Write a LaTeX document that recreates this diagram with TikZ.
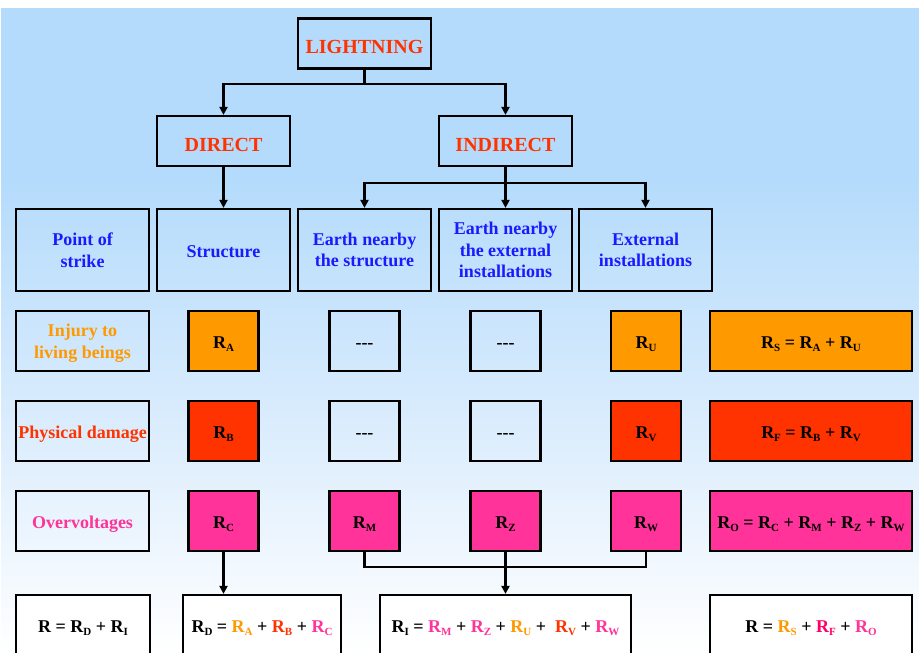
\documentclass[tikz,border=0pt]{standalone}
\usepackage{fontspec}
\setmainfont{Liberation Serif}
\usepackage{xcolor}
\usetikzlibrary{arrows.meta,positioning,calc}

\definecolor{bgtop}{HTML}{B4DBFC}
\definecolor{bgmid}{HTML}{DCEDFD}
\definecolor{headred}{HTML}{FF3300}
\definecolor{topicblue}{HTML}{1A1AFF}
\definecolor{riskorange}{HTML}{FF9900}
\definecolor{riskred}{HTML}{FF3300}
\definecolor{riskpink}{HTML}{FF3399}
\definecolor{riskmag}{HTML}{FF0066}

\newcommand{\Rsub}[1]{R\raisebox{-3.5pt}{\fontsize{11}{11}\selectfont #1}}
\newcommand{\cR}[2]{\textcolor{#1}{\Rsub{#2}}}

\pgfdeclareverticalshading{skyfade}{100bp}{color(0bp)=(white); color(25bp)=(white); color(42bp)=(bgmid); color(62bp)=(bgtop); color(100bp)=(bgtop)}

\begin{document}
\begin{tikzpicture}[x=1pt, y=-1pt,
    box/.style={draw, line width=2.2pt, inner sep=0pt, align=center, font=\fontsize{18}{21.6}\selectfont\bfseries},
    oneline/.style={text height=#1, text depth=0pt},
    head/.style={box, oneline=20pt, minimum width=133pt, minimum height=50pt, text=headred, font=\fontsize{20}{24}\selectfont\bfseries},
    point/.style={box, minimum width=133pt, minimum height=82pt, text=topicblue},
    kind/.style={box, minimum width=133pt, minimum height=60pt},
    cell/.style={box, oneline=14pt, minimum width=70pt, minimum height=60pt},
    sum/.style={box, oneline=14pt, minimum width=202pt, minimum height=60pt},
    total/.style={box, oneline=15pt, fill=white, minimum height=59pt},
    link/.style={line width=2.2pt},
    arr/.style={link, -{Triangle[width=8pt,length=8pt]}}
]
\clip (0,0) rectangle (919,653);
\shade[shading=skyfade] (1,8) rectangle (919,653);

% Lightning
\node[head] (light) at (364.5,43.5) {LIGHTNING};
\node[head] (direct) at (223.5,141) {DIRECT};
\node[head] (indirect) at (505.5,141) {INDIRECT};

% Points of strike
\node[point] (strike) at (82.5,250) {Point of\\strike};
\node[point, oneline=14pt] (struct) at (223.5,250) {Structure};
\node[point] (earth) at (364.5,250) {Earth nearby\\the structure};
\node[point] (earthext) at (505.5,250) {Earth nearby\\the external\\installations};
\node[point] (ext) at (645.5,250) {External\\installations};

% Injury
\node[kind, text depth=0pt, text=riskorange] (injury) at (82.5,341) {Injury to\\living beings};
\node[cell, fill=riskorange] (ra) at (223.5,341) {\Rsub{A}};
\node[cell] (na1) at (364.5,341) {-{}-{}-};
\node[cell] (na2) at (505.5,341) {-{}-{}-};
\node[cell, fill=riskorange] (ru) at (646,341) {\Rsub{U}};
\node[sum, fill=riskorange] (rs) at (811,341) {\Rsub{S} = \Rsub{A} + \Rsub{U}};

% Physical damage
\node[kind, oneline=14pt, text=riskred] (damage) at (82.5,431) {Physical damage};
\node[cell, fill=riskred] (rb) at (223.5,431) {\Rsub{B}};
\node[cell] (na3) at (364.5,431) {-{}-{}-};
\node[cell] (na4) at (505.5,431) {-{}-{}-};
\node[cell, fill=riskred] (rv) at (646,431) {\Rsub{V}};
\node[sum, fill=riskred] (rf) at (811,431) {\Rsub{F} = \Rsub{B} + \Rsub{V}};

% Overvoltages
\node[kind, oneline=14pt, text=riskpink] (overv) at (82.5,521) {Overvoltages};
\node[cell, fill=riskpink] (rc) at (223.5,521) {\Rsub{C}};
\node[cell, fill=riskpink] (rm) at (364.5,521) {\Rsub{M}};
\node[cell, fill=riskpink] (rz) at (505.5,521) {\Rsub{Z}};
\node[cell, fill=riskpink] (rw) at (646,521) {\Rsub{W}};
\node[sum, fill=riskpink] (ro) at (811,521) {\Rsub{O} = \Rsub{C} + \Rsub{M} + \Rsub{Z} + \Rsub{W}};

% Totals
\node[total, minimum width=134pt] (rtot) at (83,624.5) {R = \Rsub{D} + \Rsub{I}};
\node[total, minimum width=158pt] (rd) at (262,624.5) {\Rsub{D} = \cR{riskorange}{A} + \cR{riskred}{B} + \cR{riskpink}{C}};
\node[total, minimum width=251pt] (ri) at (505.5,624.5) {\Rsub{I} = \cR{riskpink}{M} + \cR{riskpink}{Z} + \cR{riskorange}{U} + \ \cR{riskred}{V} + \cR{riskpink}{W}};
\node[total, minimum width=202pt] (rall) at (811,624.5) {R = \cR{riskorange}{S} + \cR{riskmag}{F} + \cR{riskpink}{O}};

% Connectors
\coordinate (lsplit) at (364.5,84);
\coordinate (isplit) at (505.5,183);
\draw[link] (light.south) -- (lsplit);
\draw[arr] (lsplit) -| (direct.north);
\draw[arr] (lsplit) -| (indirect.north);
\draw[arr] (direct.south) -- (struct.north);
\draw[link] (indirect.south) -- (isplit);
\draw[arr] (isplit) -| (earth.north);
\draw[arr] (isplit) -- (earthext.north);
\draw[arr] (isplit) -| (ext.north);
\draw[arr] (rc.south) -- (rc.south |- rd.north);
\draw[link] (rm.south) -- ++(0,15) -| (rw.south);
\draw[arr] (rz.south) -- (ri.north);
\end{tikzpicture}
\end{document}
